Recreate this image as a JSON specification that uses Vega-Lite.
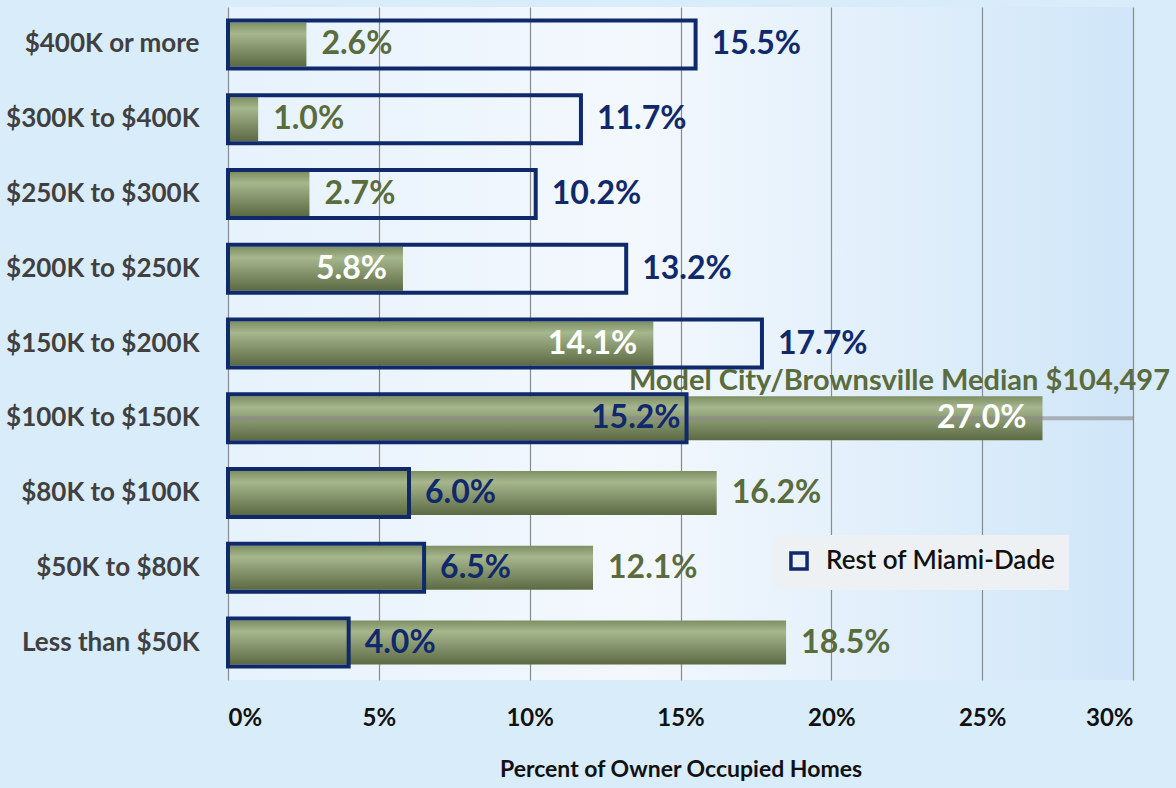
{
  "$schema": "https://vega.github.io/schema/vega-lite/v6.json",
  "autosize": {"type": "none"},
  "width": 905,
  "height": 673,
  "padding": {"left": 228, "top": 7, "right": 43, "bottom": 108},
  "background": "#d9ecfa",
  "config": {
    "font": "Lato",
    "view": {"stroke": null, "fill": {"gradient": "linear", "x1": 0, "y1": 0, "x2": 1, "y2": 0, "stops": [{"offset": 0, "color": "#e6f2fc"}, {"offset": 0.45, "color": "#f3f8fd"}, {"offset": 1, "color": "#cfe6f8"}]}}
  },
  "data": {"values": [
    {"cat": "$400K or more", "mc": 2.6, "rest": 15.5},
    {"cat": "$300K to $400K", "mc": 1.0, "rest": 11.7},
    {"cat": "$250K to $300K", "mc": 2.7, "rest": 10.2},
    {"cat": "$200K to $250K", "mc": 5.8, "rest": 13.2},
    {"cat": "$150K to $200K", "mc": 14.1, "rest": 17.7},
    {"cat": "$100K to $150K", "mc": 27.0, "rest": 15.2},
    {"cat": "$80K to $100K", "mc": 16.2, "rest": 6.0},
    {"cat": "$50K to $80K", "mc": 12.1, "rest": 6.5},
    {"cat": "Less than $50K", "mc": 18.5, "rest": 4.0}
  ]},
  "transform": [
    {"calculate": "format(datum.mc, '.1f') + '%'", "as": "mcLabel"},
    {"calculate": "format(datum.rest, '.1f') + '%'", "as": "restLabel"}
  ],
  "encoding": {
    "y": {"field": "cat", "type": "nominal", "sort": null,
      "scale": {"paddingInner": 0.3, "paddingOuter": 0.15},
      "axis": {"title": null, "ticks": false, "domain": false, "labelFontSize": 26, "labelFont": "Lato", "labelFontWeight": "bold", "labelColor": "#404040", "labelPadding": 29, "labelLimit": 300}}
  },
  "layer": [
    {
      "mark": {"type": "bar", "size": 44, "color": {"gradient": "linear", "x1": 0, "y1": 0, "x2": 0, "y2": 1, "stops": [{"offset": 0, "color": "#7e8f63"}, {"offset": 0.25, "color": "#a6b68d"}, {"offset": 1, "color": "#5b6a42"}]}},
      "encoding": {
        "x": {"field": "mc", "type": "quantitative",
          "scale": {"domain": [0, 30], "nice": false},
          "axis": {"values": [0, 5, 10, 15, 20, 25, 30],
            "title": "Percent of Owner Occupied Homes", "titleFontSize": 23, "titleFontWeight": "bold", "titleColor": "#111", "titlePadding": 28, "titleFont": "Lato",
            "labelExpr": "datum.value + '%'",
            "labelOverlap": false,
            "labelFontSize": 24, "labelFontWeight": "bold", "labelColor": "#111", "labelPadding": 26, "labelFont": "Lato",
            "ticks": false, "domain": false,
            "grid": true, "gridColor": "#8a8a8a", "gridWidth": 1.2}
        }
      }
    },
    {
      "data": {"values": [{"cat": "$100K to $150K", "x0": 0, "x1": 30, "label": "Model City/Brownsville Median $104,497"}]},
      "mark": {"type": "rule", "color": "#8a8a8a", "strokeWidth": 4, "opacity": 0.6},
      "encoding": {"x": {"field": "x0", "type": "quantitative"}, "x2": {"field": "x1"}}
    },
    {
      "mark": {"type": "bar", "size": 48, "fill": "transparent", "strokeWidth": 4},
      "encoding": {
        "x": {"field": "rest", "type": "quantitative"},
        "stroke": {"datum": "Rest of Miami-Dade", "type": "nominal",
          "scale": {"range": ["#10296b"]},
          "legend": {"title": null, "orient": "none", "legendX": 545, "legendY": 528,
            "symbolType": "square", "symbolSize": 260, "symbolStrokeWidth": 3.5, "symbolFillColor": "transparent",
            "labelFontSize": 26, "labelFont": "Lato", "labelFontWeight": 600, "labelColor": "#111", "labelOffset": 14, "labelLimit": 400,
            "fillColor": "#eef1f3", "padding": 13, "offset": 0}}
      }
    },
    {
      "transform": [{"filter": "!(datum.mc > 5 && (datum.mc < datum.rest || datum.mc > 25))"}],
      "mark": {"type": "text", "align": "left", "dx": 15, "fontSize": 32, "fontWeight": "bold", "color": "#5a6b3d", "font": "Lato"},
      "encoding": {"x": {"field": "mc", "type": "quantitative"}, "text": {"field": "mcLabel"}}
    },
    {
      "transform": [{"filter": "datum.mc > 5 && (datum.mc < datum.rest || datum.mc > 25)"}],
      "mark": {"type": "text", "align": "right", "dx": -16, "fontSize": 32, "fontWeight": "bold", "color": "#ffffff", "font": "Lato"},
      "encoding": {"x": {"field": "mc", "type": "quantitative"}, "text": {"field": "mcLabel"}}
    },
    {
      "transform": [{"filter": "!(datum.rest > 10 && datum.rest < datum.mc)"}],
      "mark": {"type": "text", "align": "left", "dx": 16, "fontSize": 32, "fontWeight": "bold", "color": "#10296b", "font": "Lato"},
      "encoding": {"x": {"field": "rest", "type": "quantitative"}, "text": {"field": "restLabel"}}
    },
    {
      "transform": [{"filter": "datum.rest > 10 && datum.rest < datum.mc"}],
      "mark": {"type": "text", "align": "right", "dx": -6, "fontSize": 32, "fontWeight": "bold", "color": "#10296b", "font": "Lato"},
      "encoding": {"x": {"field": "rest", "type": "quantitative"}, "text": {"field": "restLabel"}}
    },
    {
      "data": {"values": [{"cat": "$100K to $150K", "x1": 30, "label": "Model City/Brownsville Median $104,497"}]},
      "mark": {"type": "text", "align": "right", "baseline": "alphabetic", "dx": 37, "dy": -28, "fontSize": 29, "fontWeight": "bold", "color": "#5a6b3d", "font": "Lato"},
      "encoding": {"x": {"field": "x1", "type": "quantitative"}, "text": {"field": "label"}}
    }
  ]
}
